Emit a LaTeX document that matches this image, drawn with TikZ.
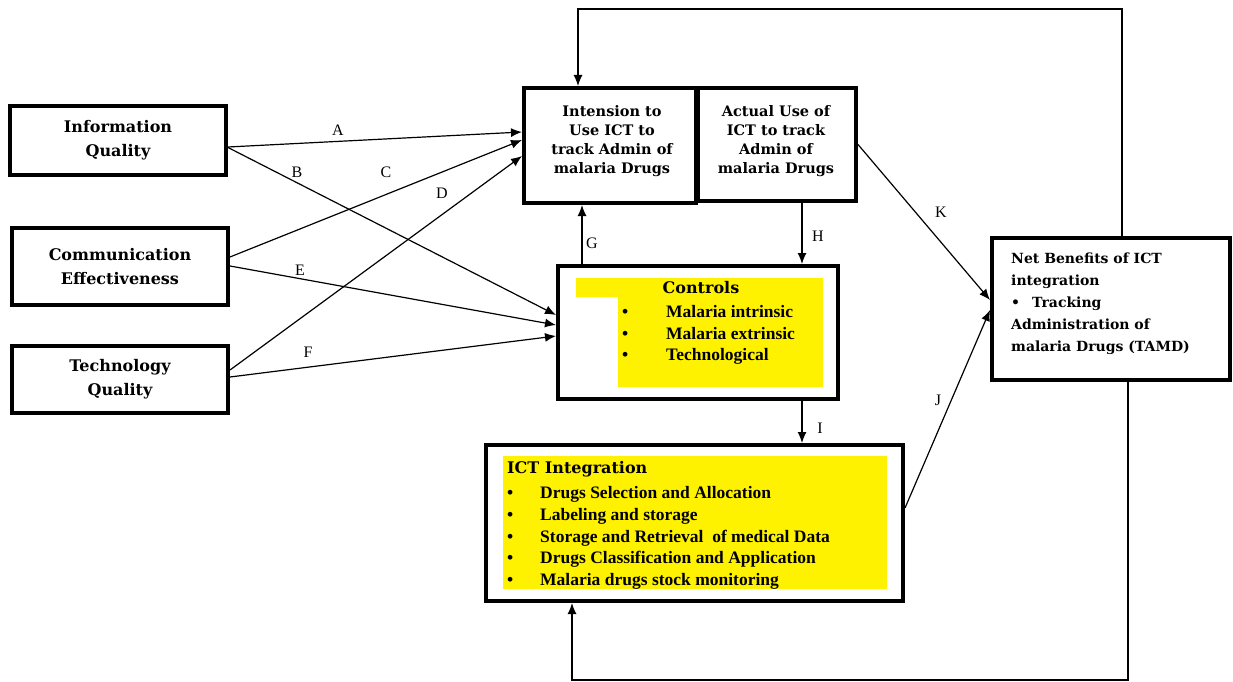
\documentclass[tikz,border=0pt]{standalone}
\usepackage{fontspec}
\setmainfont{DejaVu Serif}
\newfontfamily\listfont{Liberation Serif}
\usetikzlibrary{positioning}
\usetikzlibrary{arrows.meta}

\begin{document}
\begin{tikzpicture}[x=1pt,y=-1pt,
    box/.style={draw,line width=4pt,inner sep=0pt,align=center,font=\bfseries\fontsize{16}{24}\selectfont},
    headtxt/.style={align=center,inner sep=0pt,font=\bfseries\fontsize{14.5}{19}\selectfont},
    listtxt/.style={align=left,inner sep=0pt,font=\listfont\bfseries\fontsize{17.5}{21.75}\selectfont},
    arr/.style={-{Latex[length=11pt,width=9pt]},line width=1.2pt},
    lbl/.style={inner sep=0pt,font=\listfont\fontsize{16}{18}\selectfont},
    hilite/.style={fill=yellow}]
  \useasboundingbox (0,0) rectangle (1233,682);
  % factors on the left
  \node[box,minimum width=216,minimum height=69] (info) at (118,140.5) {Information\\Quality};
  \node[box,minimum width=216,minimum height=77] (comm) at (120,266.5) {Communication\\Effectiveness};
  \node[box,minimum width=216,minimum height=67] (tech) at (120,379.5) {Technology\\Quality};
  % intension and actual use
  \node[box,minimum width=172,minimum height=115] (intent) at (610,145.5) {};
  \node[box,minimum width=158,minimum height=113] (actual) at (777,144.5) {};
  \node[headtxt] (intenttxt) at (612,141) {Intension to\\Use ICT to\\track Admin of\\malaria Drugs};
  \node[headtxt] (actualtxt) at (776,141) {Actual Use of\\ICT to track\\Admin of\\malaria Drugs};
  % controls
  \node[box,minimum width=280,minimum height=133] (ctrl) at (698,332.5) {};
  \path[hilite] (576,278) rectangle (823,297) (618,297) rectangle (823,387);
  \node[inner sep=0pt,font=\bfseries\fontsize{16}{20}\selectfont] (ctrltitle) at (701,288) {Controls};
  \node[listtxt,anchor=west] (ctrllist) at (622,335) {\makebox[44pt][l]{\textbullet}Malaria intrinsic\\
    \makebox[44pt][l]{\textbullet}Malaria extrinsic\\
    \makebox[44pt][l]{\textbullet}Technological};
  % ICT integration
  \node[box,minimum width=417,minimum height=156] (ict) at (694.5,523) {};
  \path[hilite] (503,456) rectangle (887,589);
  \node[inner sep=0pt,anchor=west,font=\bfseries\fontsize{16}{20}\selectfont] (icttitle) at (507,469) {ICT Integration};
  \node[listtxt,anchor=west] (ictlist) at (507,538) {\makebox[33pt][l]{\textbullet}Drugs Selection and Allocation\\
    \makebox[33pt][l]{\textbullet}Labeling and storage\\
    \makebox[33pt][l]{\textbullet}Storage and Retrieval\ \ of medical Data\\
    \makebox[33pt][l]{\textbullet}Drugs Classification and Application\\
    \makebox[33pt][l]{\textbullet}Malaria drugs stock monitoring};
  % net benefits
  \node[box,minimum width=238,minimum height=142] (net) at (1111,309) {};
  \node[align=left,inner sep=0pt,anchor=west,font=\bfseries\fontsize{14}{22}\selectfont] (nettxt) at (1011,304)
    {Net Benefits of ICT\\integration\\\textbullet\hspace{12pt}Tracking\\Administration of\\malaria Drugs (TAMD)};

  % paths
  \draw[arr] ([yshift=-6.5pt]info.east) -- ([yshift=13.5pt]intent.west);
  \draw[arr] ([yshift=-7pt]info.east) -- ([yshift=17.5pt]ctrl.west);
  \draw[arr] ([yshift=9.5pt]comm.east) -- ([yshift=5.5pt]intent.west);
  \draw[arr] ([yshift=9.5pt]tech.east) -- ([yshift=-10.5pt]intent.west);
  \draw[arr] ([yshift=0.5pt]comm.east) -- ([yshift=7.5pt]ctrl.west);
  \draw[arr] ([yshift=2.5pt]tech.east) -- ([yshift=-3.5pt]ctrl.west);
  \draw[arr] ([xshift=-116pt]ctrl.north) -- ([xshift=-116pt]ctrl.north |- intent.south);
  \draw[arr] ([xshift=25pt]actual.south) -- ([xshift=25pt]actual.south |- ctrl.north);
  \draw[arr] ([xshift=104pt]ctrl.south) -- ([xshift=104pt]ctrl.south |- ict.north);
  \draw[arr] (actual.east) -- ([yshift=9pt]net.west);
  \draw[arr] ([yshift=15pt]ict.east) -- ([yshift=-1pt]net.west);
  % feedback loops
  \coordinate (looptop) at (578,9);
  \coordinate (loopbot) at (572,680);
  \draw[arr] ([xshift=11pt]net.north) |- (looptop) -- (looptop |- intent.north);
  \draw[arr] ([xshift=17pt]net.south) |- (loopbot) -- (loopbot |- ict.south);

  % path labels
  \node[lbl] (la) at (338,130) {A};
  \node[lbl] (lb) at (297,172) {B};
  \node[lbl] (lc) at (386,172) {C};
  \node[lbl] (ld) at (442,193) {D};
  \node[lbl] (le) at (300,270) {E};
  \node[lbl] (lf) at (308,352) {F};
  \node[lbl] (lg) at (592,243) {G};
  \node[lbl] (lh) at (818,236) {H};
  \node[lbl] (li) at (820,428) {I};
  \node[lbl] (lj) at (938,400) {J};
  \node[lbl] (lk) at (941,212) {K};
\end{tikzpicture}
\end{document}
